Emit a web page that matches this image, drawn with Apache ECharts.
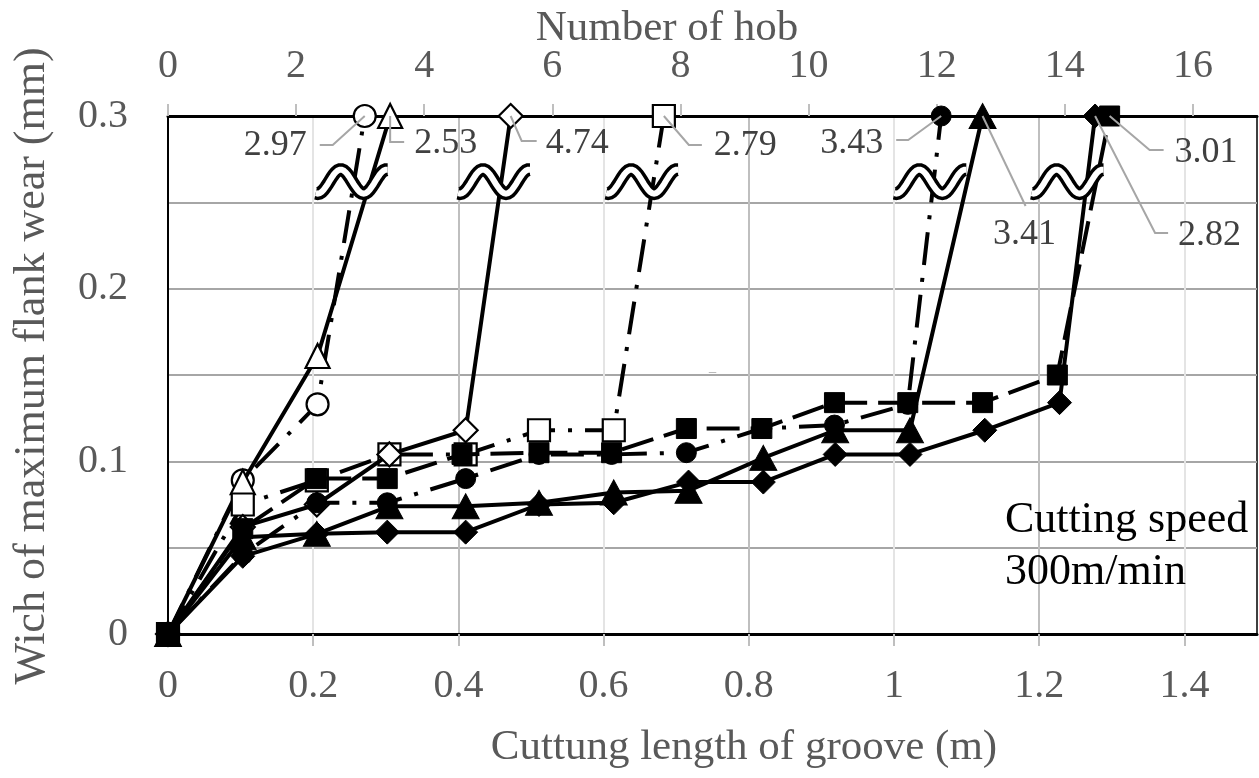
<!DOCTYPE html>
<html lang="en">
<head>
<meta charset="UTF-8" />
<title>Flank wear vs cutting length</title>
<style>
  html, body { margin: 0; padding: 0; background: #fff; }
  #chart { width: 1259px; height: 778px; }
</style>
</head>
<body>
<div id="chart"></div>
<script src="https://cdn.jsdelivr.net/npm/echarts@6/dist/echarts.min.js"></script>
<script>
  // [cutting length of groove (m), width of maximum flank wear (mm)]
  const openCircle = [[0, 0], [0.103, 0.089], [0.206, 0.133], [0.271, 0.3]];
  const openTriangle = [[0, 0], [0.103, 0.088], [0.206, 0.161], [0.306, 0.3]];
  const openSquare = [[0, 0], [0.103, 0.075], [0.205, 0.089], [0.305, 0.104], [0.41, 0.104],
    [0.511, 0.118], [0.614, 0.118], [0.683, 0.3]];
  const openDiamond = [[0, 0], [0.103, 0.062], [0.205, 0.075], [0.305, 0.104], [0.41, 0.118], [0.472, 0.3]];
  const filledTriangle = [[0, 0], [0.103, 0.056], [0.205, 0.058], [0.305, 0.074], [0.41, 0.074],
    [0.511, 0.076], [0.614, 0.082], [0.717, 0.083], [0.82, 0.102], [0.919, 0.118], [1.022, 0.118], [1.122, 0.3]];
  const filledDiamond = [[0, 0], [0.103, 0.045], [0.205, 0.058], [0.302, 0.059], [0.41, 0.059],
    [0.511, 0.075], [0.614, 0.076], [0.717, 0.088], [0.82, 0.088], [0.919, 0.104], [1.022, 0.104],
    [1.125, 0.118], [1.228, 0.134], [1.277, 0.3]];
  const filledCircle = [[0, 0], [0.103, 0.046], [0.205, 0.076], [0.302, 0.076], [0.41, 0.09],
    [0.511, 0.104], [0.611, 0.104], [0.714, 0.105], [0.818, 0.119], [0.918, 0.121], [1.019, 0.133], [1.065, 0.3]];
  const filledSquare = [[0, 0], [0.103, 0.061], [0.205, 0.09], [0.302, 0.09], [0.405, 0.104],
    [0.511, 0.105], [0.611, 0.105], [0.714, 0.119], [0.818, 0.119], [0.918, 0.134], [1.019, 0.134],
    [1.122, 0.134], [1.225, 0.15], [1.297, 0.3]];

  // values written at the end of each curve (same order as seriesDefs)
  const endLabels = ['2.97', '2.53', '2.79', '4.74', '3.41', '2.82', '3.43', '3.01'];
  // where the axis is broken (~ marks)
  const breakX = [0.253, 0.449, 0.653, 1.05, 1.239];
  const breakY = 0.262;

  const xTicks = [0, 0.2, 0.4, 0.6, 0.8, 1, 1.2, 1.4];
  const yTicks = [0, 0.1, 0.2, 0.3];
  const hobTicks = [0, 2, 4, 6, 8, 10, 12, 14, 16];

  const FONT = '"Liberation Serif", "Times New Roman", serif';
  const dashDot = [33, 13, 4, 13];
  const longDash = [33, 11];

  const seriesDefs = [
    { data: openCircle, symbol: 'circle', size: 22, filled: false, dash: dashDot },
    { data: openTriangle, symbol: 'triangle', size: 24, filled: false, dash: 'solid' },
    { data: openSquare, symbol: 'rect', size: 22, filled: false, dash: dashDot },
    { data: openDiamond, symbol: 'diamond', size: 24, filled: false, dash: 'solid' },
    { data: filledTriangle, symbol: 'triangle', size: [27, 25], filled: true, dash: 'solid' },
    { data: filledDiamond, symbol: 'diamond', size: 24, filled: true, dash: 'solid' },
    { data: filledCircle, symbol: 'circle', size: 20, filled: true, dash: dashDot },
    { data: filledSquare, symbol: 'rect', size: 20, filled: true, dash: longDash }
  ];

  // leader line bends and label offsets (px from the end marker)
  const leaderLayout = [
    { path: [[-32, 29], [-45, 29]], text: [-58, 30], align: 'right' },
    { path: [[0, 26], [14, 26]], text: [24, 28], align: 'left' },
    { path: [[25, 29], [38, 29]], text: [50, 30], align: 'left' },
    { path: [[11, 25], [26, 25]], text: [35, 28], align: 'left' },
    { path: [[43, 90]], text: [42, 119], align: 'center' },
    { path: [[60, 117], [73, 117]], text: [83, 120], align: 'left' },
    { path: [[-33, 24], [-45, 24]], text: [-58, 28], align: 'right' },
    { path: [[40, 34], [54, 34]], text: [65, 37], align: 'left' }
  ];

  const chart = echarts.init(document.getElementById('chart'));

  const lineSeries = seriesDefs.map(function (d, i) {
    return {
      type: 'line',
      xAxisIndex: 0,
      yAxisIndex: 0,
      data: d.data,
      symbol: d.symbol,
      symbolSize: d.size,
      showAllSymbol: true,
      clip: false,
      z: 10 + i,
      lineStyle: { color: '#000', width: 4, type: d.dash, cap: 'butt' },
      itemStyle: d.filled
        ? { color: '#000', borderColor: '#000', borderWidth: 1 }
        : { color: '#fff', borderColor: '#000', borderWidth: 2.2 },
      emphasis: { disabled: true },
      animation: false
    };
  });

  function renderBreak(params, api) {
    const c = api.coord([api.value(0), api.value(1)]);
    const pts = [];
    for (let k = 0; k <= 36; k++) {
      const dx = -36 + k * 72 / 36;
      pts.push([c[0] + dx, c[1] - 12 * Math.cos(2 * Math.PI * (dx + 11) / 46)]);
    }
    return {
      type: 'group',
      children: [
        { type: 'polyline', shape: { points: pts }, style: { stroke: '#000', lineWidth: 13, fill: null, lineCap: 'butt' } },
        { type: 'polyline', shape: { points: pts }, style: { stroke: '#fff', lineWidth: 6, fill: null, lineCap: 'butt' } }
      ]
    };
  }

  function renderEndLabel(params, api) {
    const i = params.dataIndex;
    const p = api.coord([api.value(0), api.value(1)]);
    const lay = leaderLayout[i];
    const pts = [p].concat(lay.path.map(function (d) { return [p[0] + d[0], p[1] + d[1]]; }));
    return {
      type: 'group',
      children: [
        { type: 'polyline', shape: { points: pts }, style: { stroke: '#a6a6a6', lineWidth: 2, fill: null } },
        {
          type: 'text',
          x: p[0] + lay.text[0],
          y: p[1] + lay.text[1],
          style: { text: endLabels[i], fill: '#404040', font: '36px ' + FONT, align: lay.align, verticalAlign: 'middle' }
        }
      ]
    };
  }

  const option = {
    animation: false,
    backgroundColor: '#fff',
    textStyle: { fontFamily: FONT },
    title: {
      text: 'Cutting speed\n300m/min',
      left: 1005,
      top: 494,
      padding: 0,
      textStyle: { fontFamily: FONT, fontSize: 44, lineHeight: 52, fontWeight: 'normal', color: '#000' }
    },
    grid: {
      left: 168, top: 116, right: 2, bottom: 144,
      outerBoundsMode: 'none',
      containLabel: false,
      show: true, borderColor: '#000', borderWidth: 1.5
    },
    xAxis: [
      {
        type: 'value',
        position: 'bottom',
        min: 0, max: 1.5, interval: 0.1,
        name: 'Cuttung length of groove (m)',
        nameLocation: 'middle',
        nameGap: 92,
        nameMoveOverlap: false,
        nameTextStyle: { fontFamily: FONT, fontSize: 43, color: '#595959', padding: [0, 0, 0, 63] },
        axisLine: { show: true, lineStyle: { color: '#000', width: 3 } },
        axisTick: { show: true, customValues: xTicks, length: 12, lineStyle: { color: '#bfbfbf', width: 2 } },
        axisLabel: { customValues: xTicks, margin: 32, fontFamily: FONT, fontSize: 40, color: '#595959' },
        splitLine: { show: true, lineStyle: { color: ['#bfbfbf', '#e4e4e4'], width: 2 } }
      },
      {
        type: 'value',
        position: 'top',
        min: 0, max: 17, interval: 2,
        name: 'Number of hob',
        nameLocation: 'middle',
        nameGap: 66,
        nameMoveOverlap: false,
        nameTextStyle: { fontFamily: FONT, fontSize: 43, color: '#595959', padding: [0, 91, 0, 0] },
        axisLine: { show: true, lineStyle: { color: '#000', width: 3 } },
        axisTick: { show: true, customValues: hobTicks, length: 12, lineStyle: { color: '#bfbfbf', width: 2 } },
        axisLabel: { customValues: hobTicks, margin: 30, fontFamily: FONT, fontSize: 40, color: '#595959' },
        splitLine: { show: false }
      }
    ],
    yAxis: {
      type: 'value',
      min: 0, max: 0.3, interval: 0.05,
      name: 'Wich of maximum flank wear (mm)',
      nameLocation: 'middle',
      nameGap: 114,
      nameMoveOverlap: false,
      nameTextStyle: { fontFamily: FONT, fontSize: 44, color: '#595959', padding: [0, 0, 0, 18] },
      axisLine: { show: true, lineStyle: { color: '#000', width: 2 } },
      axisTick: { show: false },
      axisLabel: { customValues: yTicks, margin: 40, fontFamily: FONT, fontSize: 40, color: '#595959' },
      splitLine: { show: true, lineStyle: { color: '#a6a6a6', width: 2 } }
    },
    series: lineSeries.concat([
      {
        type: 'custom',
        xAxisIndex: 0,
        yAxisIndex: 0,
        data: breakX.map(function (x) { return [x, breakY]; }),
        renderItem: renderBreak,
        clip: false,
        z: 30,
        silent: true
      },
      {
        type: 'custom',
        xAxisIndex: 0,
        yAxisIndex: 0,
        data: seriesDefs.map(function (d) { return d.data[d.data.length - 1]; }),
        renderItem: renderEndLabel,
        clip: false,
        z: 40,
        silent: true
      }
    ]),
    graphic: [
      { type: 'text', left: 708, top: 368, style: { text: '=', fill: '#a6a6a6', font: '16px ' + FONT } }
    ]
  };

  chart.setOption(option);
</script>
</body>
</html>
